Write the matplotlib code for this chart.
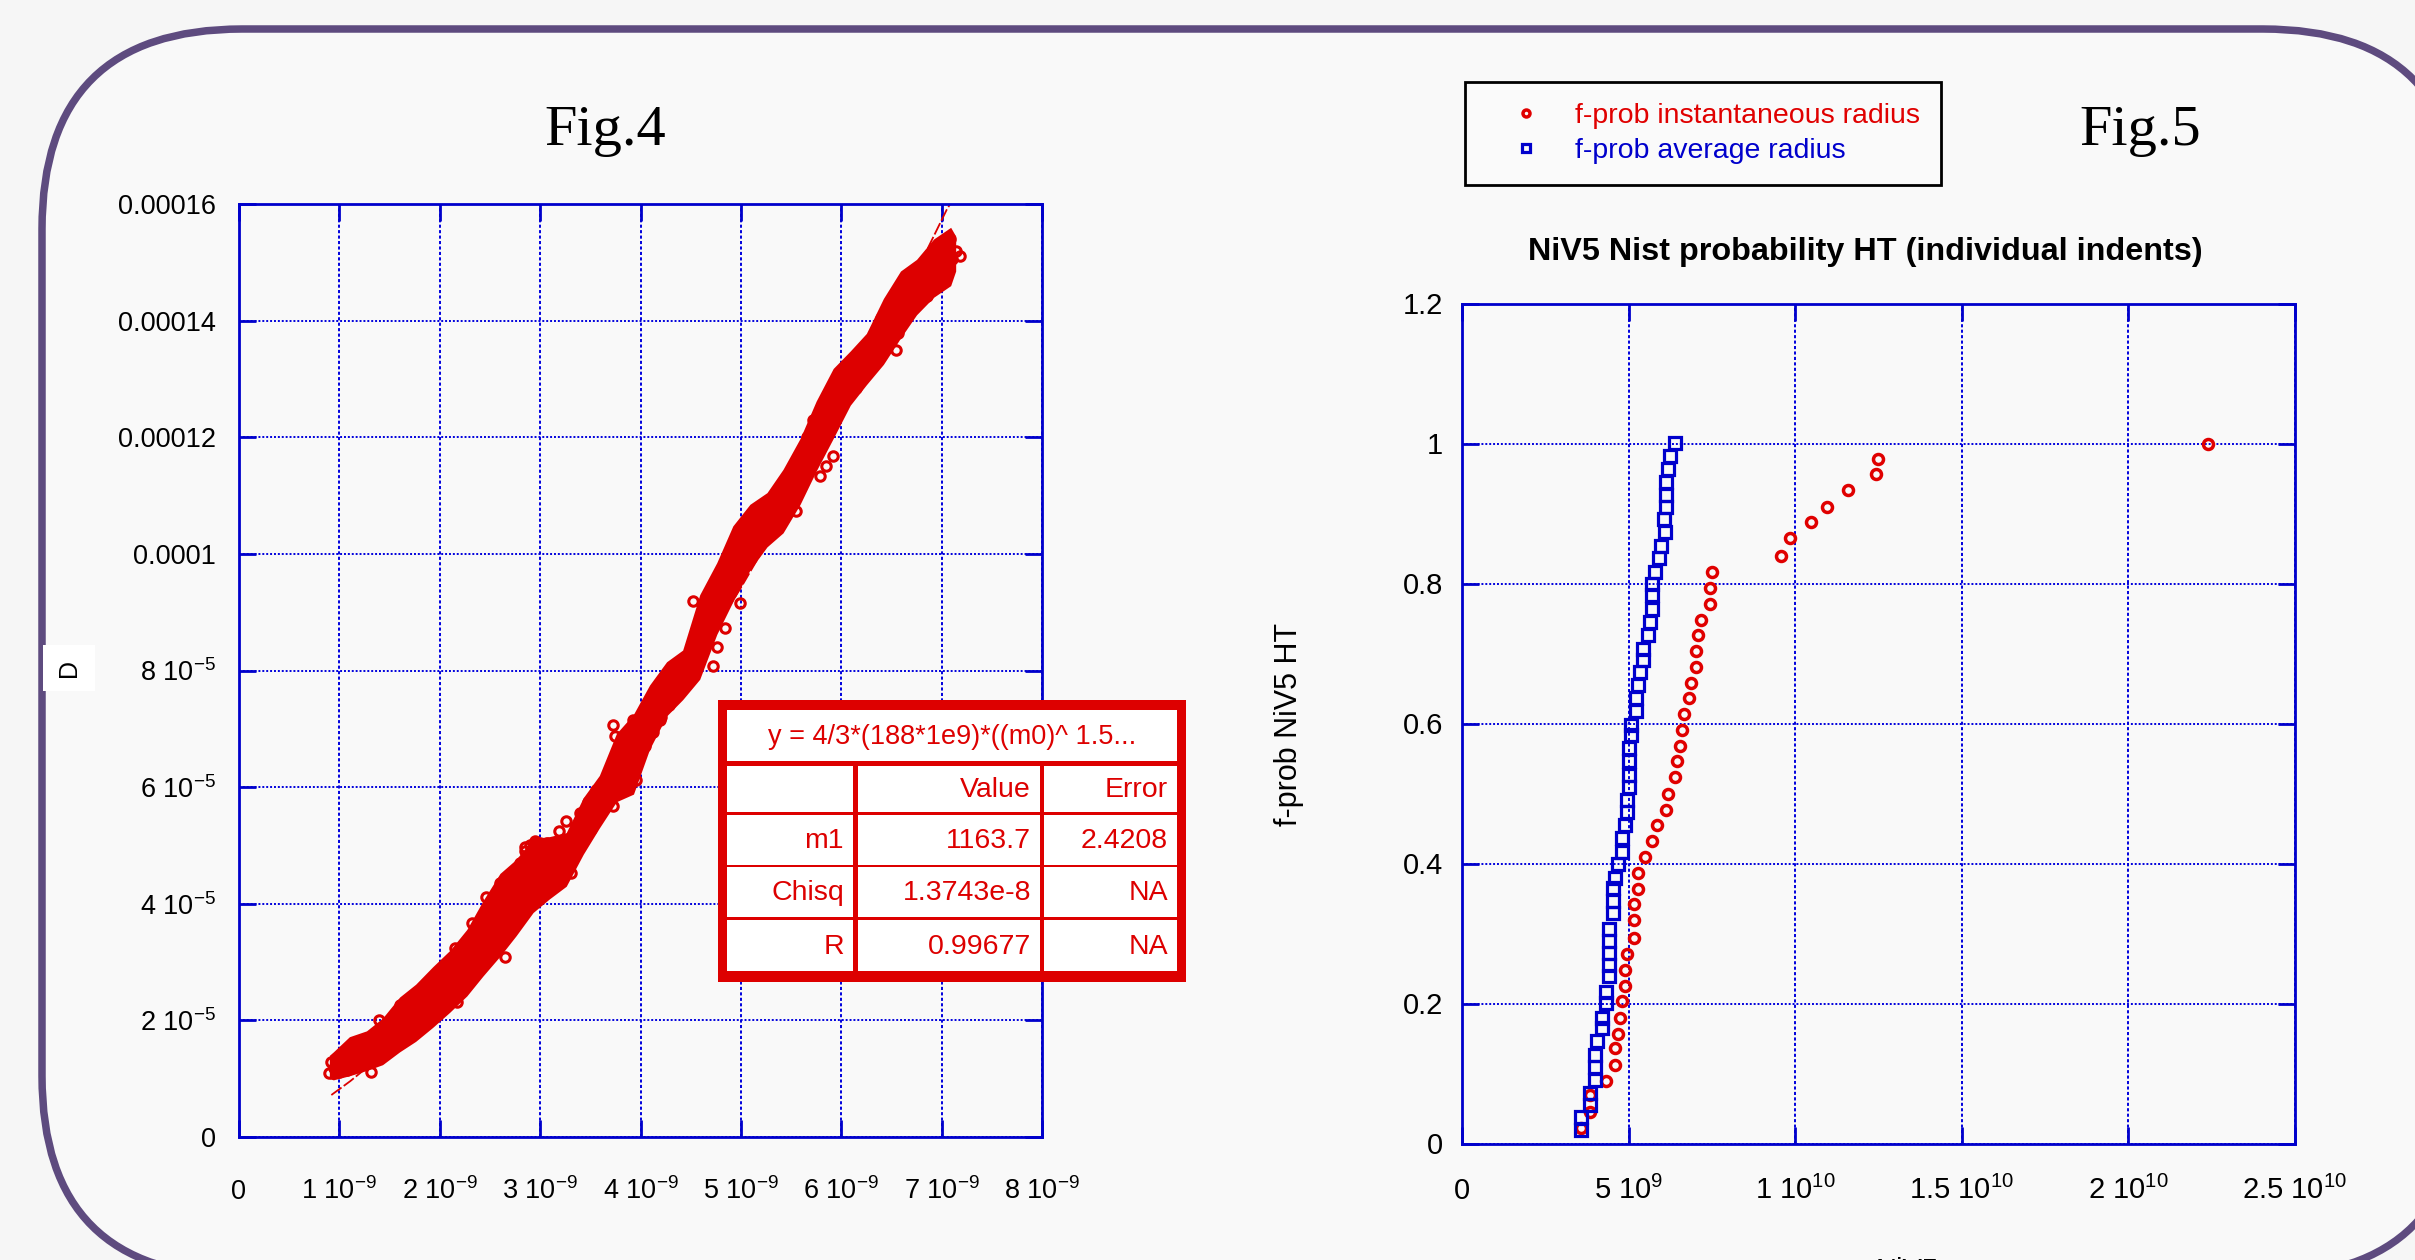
import matplotlib
matplotlib.use('Agg')
import matplotlib.pyplot as plt
import matplotlib.transforms as mtransforms
from matplotlib.patches import FancyBboxPatch, Rectangle

W, H = 2415, 1260
NARROW = ['Liberation Sans Narrow', 'Liberation Sans', 'DejaVu Sans']
REG = ['Liberation Sans', 'DejaVu Sans']
SERIF = ['Liberation Serif', 'DejaVu Serif']

RED = '#dd0000'
BLUE = '#0000cc'
PURPLE = '#5e4b7f'

# ---- Fig.4 data (x in 1e-9, y in 1e-5) ----
# outline of the dense cloud of points
band_x = [0.90, 0.94, 1.10, 1.27, 1.43, 1.60, 1.76, 1.93, 2.10, 2.27, 2.43, 2.60, 2.76, 2.93, 3.09, 3.26, 3.43,
          3.59, 3.76, 3.93, 4.09, 4.26, 4.42, 4.59, 4.76, 4.92, 5.09, 5.26, 5.42, 5.59, 5.75, 5.92, 6.09, 6.25,
          6.42, 6.59, 6.75, 6.92, 7.09, 7.14]
band_lo = [1.00, 0.98, 1.05, 1.14, 1.24, 1.46, 1.64, 1.88, 2.14, 2.42, 2.76, 3.10, 3.45, 3.85, 4.08, 4.30, 4.85,
           5.30, 5.75, 5.88, 6.65, 7.22, 7.50, 7.85, 8.62, 9.18, 9.72, 10.12, 10.36, 10.85, 11.42, 11.98, 12.55,
           12.90, 13.25, 13.70, 14.10, 14.40, 14.60, 14.85]
band_hi = [1.40, 1.46, 1.72, 1.82, 2.04, 2.40, 2.62, 2.92, 3.20, 3.56, 4.05, 4.52, 4.76, 5.12, 5.15, 5.22, 5.82,
           6.20, 6.92, 7.25, 7.75, 8.15, 8.35, 9.30, 9.85, 10.48, 10.85, 11.05, 11.45, 11.98, 12.62, 13.18, 13.48,
           13.78, 14.38, 14.85, 15.05, 15.40, 15.60, 15.45]

# individual circles that show at the edges of the cloud
d_x = [0.90, 0.92, 0.95, 0.98, 1.00, 1.03, 1.06, 1.08, 1.12, 1.15, 1.18, 1.20, 1.24, 1.26, 1.30, 1.33, 1.36, 1.12, 1.32, 1.39, 1.40,
       1.42, 1.45, 1.48, 1.52, 1.55, 1.58, 1.60, 1.63, 1.66, 1.70, 1.72, 1.76, 1.78, 1.82, 1.85, 1.88, 1.90, 1.95, 1.97, 1.60,
       2.00, 2.03, 2.06, 2.08, 2.12, 2.15, 2.18, 2.20, 2.24, 2.27, 2.30, 2.32, 2.36, 2.38, 2.42, 2.44, 2.48, 2.50, 2.54, 2.56,
       2.60, 2.62, 2.15, 2.32, 2.65, 2.17,
       2.64, 2.66, 2.70, 2.72, 2.75, 2.77, 2.80, 2.82, 2.85, 2.87, 2.90, 2.92, 2.95, 2.98, 3.00, 3.03, 3.07, 3.10, 3.14, 3.17,
       3.21, 3.24, 3.28, 3.32, 2.60, 2.46, 2.85, 2.95, 3.31, 3.40, 2.70, 2.80, 2.90, 3.00, 3.10, 3.20, 2.62, 2.75,
       3.36, 3.40, 3.44, 3.48, 3.52, 3.56, 3.60, 3.64, 3.68, 3.72, 3.76, 3.80, 3.84, 3.88, 3.92, 3.96, 4.00, 4.04, 4.08, 4.12,
       4.16, 4.20, 4.24, 4.28, 3.26, 3.19, 3.51, 3.73, 3.73, 3.75, 3.96, 4.02, 4.19, 3.93,
       4.32, 4.36, 4.40, 4.44, 4.48, 4.52, 4.55, 4.58, 4.60, 4.62, 4.64, 4.66, 4.70, 4.72, 4.76, 4.80, 4.84, 4.88, 4.92, 4.96,
       5.00, 5.04, 4.52, 4.76, 4.72, 4.52, 4.84, 4.99, 4.94,
       5.08, 5.12, 5.16, 5.20, 5.24, 5.28, 5.32, 5.36, 5.40, 5.44, 5.48, 5.52, 5.56, 5.60, 5.64, 5.66, 5.70, 5.72, 5.76, 5.80,
       5.84, 5.42, 5.55, 5.49, 5.92, 5.85, 5.79,
       5.88, 5.92, 5.96, 6.00, 6.04, 6.08, 6.12, 6.16, 6.20, 6.24, 6.28, 6.32, 6.36, 6.40, 6.44, 6.48, 6.52, 6.56, 6.60, 6.64,
       6.68, 6.72, 6.76, 6.80, 6.84, 6.88, 6.92, 6.96, 7.00, 7.04, 7.08, 7.10, 7.14, 6.15, 6.55, 6.57, 6.77, 7.18, 6.85]
d_y = [1.10, 1.28, 1.18, 1.35, 1.12, 1.25, 1.40, 1.15, 1.30, 1.45, 1.22, 1.38, 1.52, 1.30, 1.48, 1.62, 1.40, 1.58, 1.12, 2.01, 1.35,
       1.55, 1.80, 1.62, 1.85, 1.68, 1.95, 1.75, 2.05, 1.80, 2.10, 1.92, 2.18, 2.00, 2.25, 2.05, 2.38, 2.15, 2.45, 2.22, 2.26,
       2.55, 2.30, 2.75, 2.45, 2.85, 2.55, 3.00, 2.65, 3.10, 2.75, 3.25, 2.90, 3.40, 3.05, 3.55, 3.20, 3.70, 3.35, 3.85, 3.50,
       4.00, 3.60, 3.24, 3.67, 3.09, 2.32,
       4.15, 3.75, 4.35, 3.90, 4.55, 4.05, 4.70, 4.20, 4.90, 4.35, 5.00, 4.45, 5.05, 4.55, 5.05, 4.60, 5.05, 4.65, 5.05, 4.70,
       5.00, 4.75, 5.00, 4.85, 4.36, 4.12, 4.98, 5.07, 4.53, 5.07, 4.10, 4.45, 4.70, 4.85, 4.85, 4.85, 3.90, 4.30,
       5.30, 5.55, 5.40, 5.75, 5.55, 5.95, 5.75, 6.10, 5.90, 6.25, 6.05, 6.40, 6.20, 6.55, 6.40, 6.75, 6.90, 6.70, 7.10, 6.95,
       7.35, 7.20, 7.55, 7.40, 5.42, 5.24, 5.29, 5.67, 7.07, 6.87, 6.12, 6.67, 7.15, 7.15,
       7.70, 7.95, 7.80, 8.10, 7.95, 8.25, 8.60, 8.40, 8.90, 8.60, 9.10, 8.80, 9.30, 9.00, 9.45, 9.25, 9.60, 9.40, 9.80, 9.65,
       10.00, 9.85, 8.18, 8.41, 8.07, 9.19, 8.73, 9.16, 10.24,
       10.10, 10.35, 10.20, 10.55, 10.40, 10.75, 10.60, 10.95, 10.80, 11.20, 11.05, 11.45, 11.30, 11.70, 11.55, 12.00, 11.80,
       12.30, 12.10, 12.50, 12.35, 10.59, 10.74, 11.31, 11.68, 11.51, 11.34,
       12.70, 12.55, 12.95, 12.80, 13.10, 12.95, 13.25, 13.05, 13.40, 13.25, 13.55, 13.70, 13.85, 14.05, 13.80, 14.10, 13.95,
       14.25, 14.40, 14.15, 14.50, 14.30, 14.65, 14.50, 14.80, 15.00, 14.75, 15.05, 14.85, 15.20, 15.40, 15.05, 15.20, 12.85,
       13.50, 13.79, 14.54, 15.11, 14.43]

fit_x = [0.92, 1.11, 1.5, 2.0, 2.5, 3.0, 3.5, 4.0, 4.5, 5.0, 5.5, 6.0, 6.5, 6.68, 7.05, 7.12]
fit_y = [0.72, 0.96, 1.51, 2.34, 3.29, 4.33, 5.47, 6.71, 8.03, 9.42, 10.9, 12.43, 14.0, 14.6, 15.9, 16.1]

x4_ticks = [0, 1e-9, 2e-9, 3e-9, 4e-9, 5e-9, 6e-9, 7e-9, 8e-9]
x4_labels = ['0', r'1 $\mathregular{10^{-9}}$', r'2 $\mathregular{10^{-9}}$', r'3 $\mathregular{10^{-9}}$',
             r'4 $\mathregular{10^{-9}}$', r'5 $\mathregular{10^{-9}}$', r'6 $\mathregular{10^{-9}}$',
             r'7 $\mathregular{10^{-9}}$', r'8 $\mathregular{10^{-9}}$']
y4_ticks = [0, 2e-5, 4e-5, 6e-5, 8e-5, 1e-4, 1.2e-4, 1.4e-4, 1.6e-4]
y4_labels = ['0', r'2 $\mathregular{10^{-5}}$', r'4 $\mathregular{10^{-5}}$', r'6 $\mathregular{10^{-5}}$',
             r'8 $\mathregular{10^{-5}}$', '0.0001', '0.00012', '0.00014', '0.00016']

fit_title = 'y = 4/3*(188*1e9)*((m0)^ 1.5...'
fit_rows = [['', 'Value', 'Error'],
            ['m1', '1163.7', '2.4208'],
            ['Chisq', '1.3743e-8', 'NA'],
            ['R', '0.99677', 'NA']]

# ---- Fig.5 data (x in 1e9) ----
avg_x = [6.40, 6.25, 6.18, 6.12, 6.12, 6.12, 6.05, 6.08, 5.98, 5.92, 5.78, 5.71, 5.71, 5.71, 5.64, 5.58, 5.43, 5.43,
         5.35, 5.27, 5.22, 5.22, 5.08, 5.08, 5.00, 5.00, 5.00, 5.00, 4.95, 4.95, 4.88, 4.80, 4.80, 4.67, 4.60, 4.53,
         4.53, 4.53, 4.40, 4.40, 4.40, 4.40, 4.40, 4.33, 4.33, 4.20, 4.20, 4.05, 3.98, 3.98, 3.98, 3.85, 3.85, 3.57, 3.57]
avg_y = [1.001, 0.982, 0.963, 0.945, 0.926, 0.910, 0.892, 0.873, 0.854, 0.836, 0.816, 0.799, 0.784, 0.764, 0.745,
         0.726, 0.706, 0.691, 0.673, 0.655, 0.636, 0.618, 0.598, 0.584, 0.565, 0.546, 0.527, 0.509, 0.491, 0.473,
         0.455, 0.436, 0.417, 0.399, 0.380, 0.365, 0.347, 0.329, 0.307, 0.289, 0.272, 0.255, 0.239, 0.217, 0.201,
         0.180, 0.165, 0.147, 0.126, 0.109, 0.091, 0.072, 0.055, 0.038, 0.020]
inst_x = [22.39, 12.48, 12.41, 11.58, 10.95, 10.48, 9.85, 9.57, 7.50, 7.43, 7.43, 7.16, 7.09, 7.02, 7.02, 6.88, 6.81,
          6.67, 6.60, 6.53, 6.46, 6.39, 6.18, 6.12, 5.85, 5.71, 5.50, 5.29, 5.29, 5.15, 5.15, 5.15, 4.95, 4.88, 4.88,
          4.81, 4.74, 4.67, 4.60, 4.60, 4.32, 3.85, 3.85, 3.58]
inst_y = [1.0, 0.978, 0.956, 0.933, 0.910, 0.888, 0.865, 0.839, 0.816, 0.794, 0.771, 0.748, 0.726, 0.704, 0.681,
          0.658, 0.636, 0.613, 0.591, 0.568, 0.546, 0.523, 0.500, 0.477, 0.455, 0.432, 0.410, 0.387, 0.364, 0.342,
          0.319, 0.293, 0.271, 0.248, 0.225, 0.204, 0.180, 0.157, 0.136, 0.112, 0.090, 0.069, 0.045, 0.022]

x5_ticks = [0, 5e9, 1e10, 1.5e10, 2e10, 2.5e10]
x5_labels = ['0', r'5 $\mathregular{10^{9}}$', r'1 $\mathregular{10^{10}}$', r'1.5 $\mathregular{10^{10}}$',
             r'2 $\mathregular{10^{10}}$', r'2.5 $\mathregular{10^{10}}$']
y5_ticks = [0, 0.2, 0.4, 0.6, 0.8, 1.0, 1.2]
y5_labels = ['0', '0.2', '0.4', '0.6', '0.8', '1', '1.2']

fig = plt.figure(figsize=(W / 100, H / 100), dpi=100, facecolor='#f6f6f6')
# pixel coordinates measured from the top-left corner
pix = mtransforms.Affine2D().scale(1 / W, -1 / H).translate(0, 1) + fig.transFigure

frame = FancyBboxPatch((42, 29), 2421, 1247, boxstyle='round,pad=0,rounding_size=200',
                       transform=pix, facecolor='#f9f9f9', edgecolor=PURPLE, linewidth=5.4, zorder=0)
fig.add_artist(frame)


def style_axes(ax):
    ax.set_facecolor('#f9f9f9')
    for s in ax.spines.values():
        s.set_color(BLUE)
        s.set_linewidth(2)
    ax.tick_params(which='both', direction='in', length=12, width=2, color=BLUE,
                   top=True, right=True, labelcolor='black')
    ax.xaxis.grid(True, color='#0000dd', linestyle=(0, (1.6, 1.2)), linewidth=1.4)
    ax.yaxis.grid(True, color='#0000dd', linestyle=(0, (1, 1)), linewidth=1.4)
    ax.set_axisbelow(True)


# ---- Fig.4 ----
ax1 = fig.add_axes([239 / W, 1 - 1137 / H, 803 / W, 933 / H], zorder=2)
style_axes(ax1)
ax1.tick_params(axis='x', pad=44.6)
ax1.tick_params(axis='y', pad=16.5)
ax1.plot([v * 1e-9 for v in fit_x], [v * 1e-5 for v in fit_y], color=RED, lw=1.3,
         linestyle=(0, (7, 1.5)), zorder=2.5)
ax1.fill_between([v * 1e-9 for v in band_x], [v * 1e-5 for v in band_lo], [v * 1e-5 for v in band_hi],
                 color=RED, linewidth=0, zorder=3)
ax1.plot([v * 1e-9 for v in d_x], [v * 1e-5 for v in d_y], linestyle='none', marker='o', ms=6.8,
         mfc='none', mec=RED, mew=2.2, zorder=3.5)
ax1.set_xlim(0, 8e-9)
ax1.set_ylim(0, 1.6e-4)
ax1.set_xticks(x4_ticks, x4_labels, fontfamily=NARROW, fontsize=19.5, va='baseline')
ax1.set_yticks(y4_ticks, y4_labels, fontfamily=NARROW, fontsize=19.5)

fig.text(69, 668, 'D', transform=pix, rotation=90, ha='center', va='center', fontfamily=NARROW,
         fontsize=18, bbox=dict(facecolor='white', edgecolor='none', pad=10))
fig.text(605, 145, 'Fig.4', transform=pix, ha='center', va='baseline', fontfamily=SERIF, fontsize=42)

# fit result box
fig.add_artist(Rectangle((718, 700), 468, 282, transform=pix, facecolor=RED, edgecolor='none', zorder=5))
fig.add_artist(Rectangle((727, 710), 450, 51, transform=pix, facecolor='white', edgecolor='none', zorder=6))
fig.text(952, 737, fit_title, transform=pix, ha='center', va='center', color=RED,
         fontfamily=NARROW, fontsize=19.5, zorder=7)
row_y = [(766, 812), (815, 865), (867, 917), (920, 971)]
col_x = [(727, 853), (858, 1040), (1044, 1177)]
for r, (y0, y1) in enumerate(row_y):
    for c, (x0, x1) in enumerate(col_x):
        fig.add_artist(Rectangle((x0, y0), x1 - x0, y1 - y0, transform=pix, facecolor='white',
                                 edgecolor='none', zorder=6))
        fig.text(x1 - 9, (y0 + y1) / 2 + 1, fit_rows[r][c], transform=pix, ha='right', va='center',
                 color=RED, fontfamily=NARROW, fontsize=20.5, zorder=7)

# ---- Fig.5 ----
ax2 = fig.add_axes([1462 / W, 1 - 1143.5 / H, 833 / W, 840 / H], zorder=2)
style_axes(ax2)
ax2.tick_params(axis='x', pad=40)
ax2.tick_params(axis='y', pad=13.7)
l_inst, = ax2.plot([v * 1e9 for v in inst_x], inst_y, linestyle='none', marker='o', ms=7.2, mfc='none',
                   color='#e00000', mew=2.5, label='f-prob instantaneous radius', zorder=3)
l_avg, = ax2.plot([v * 1e9 for v in avg_x], avg_y, linestyle='none', marker='s', ms=9, mfc='none',
                  color=BLUE, mew=2.3, label='f-prob average radius', zorder=4)
ax2.set_xlim(0, 2.5e10)
ax2.set_ylim(0, 1.2)
ax2.set_xticks(x5_ticks, x5_labels, fontfamily=REG, fontsize=21, va='baseline')
ax2.set_yticks(y5_ticks, y5_labels, fontfamily=REG, fontsize=21)

fig.text(1865, 260, 'NiV5 Nist probability HT (individual indents)', transform=pix, ha='center',
         va='baseline', fontfamily=REG, fontweight='bold', fontsize=23.3)
fig.text(1289, 724, 'f-prob NiV5 HT', transform=pix, rotation=90, ha='center', va='center',
         fontfamily=REG, fontsize=22)
fig.text(1907, 1257, 'NiV5', transform=pix, ha='center', va='top', fontfamily=REG, fontsize=21)
fig.text(2140, 145, 'Fig.5', transform=pix, ha='center', va='baseline', fontfamily=SERIF, fontsize=42)

leg = fig.legend(handles=[l_inst, l_avg], loc='upper left', bbox_to_anchor=(1465 / W, 1 - 82 / H),
                 bbox_transform=fig.transFigure, borderaxespad=0, fancybox=False, edgecolor='black',
                 facecolor='#fafafa', framealpha=1, prop=dict(family=REG, size=20.5), labelcolor='linecolor',
                 handlelength=2.8, handletextpad=0.3, borderpad=0.75, labelspacing=0.3, markerscale=0.7)
leg.get_frame().set_linewidth(2)

fig.savefig('out.png', dpi=100, facecolor=fig.get_facecolor())
